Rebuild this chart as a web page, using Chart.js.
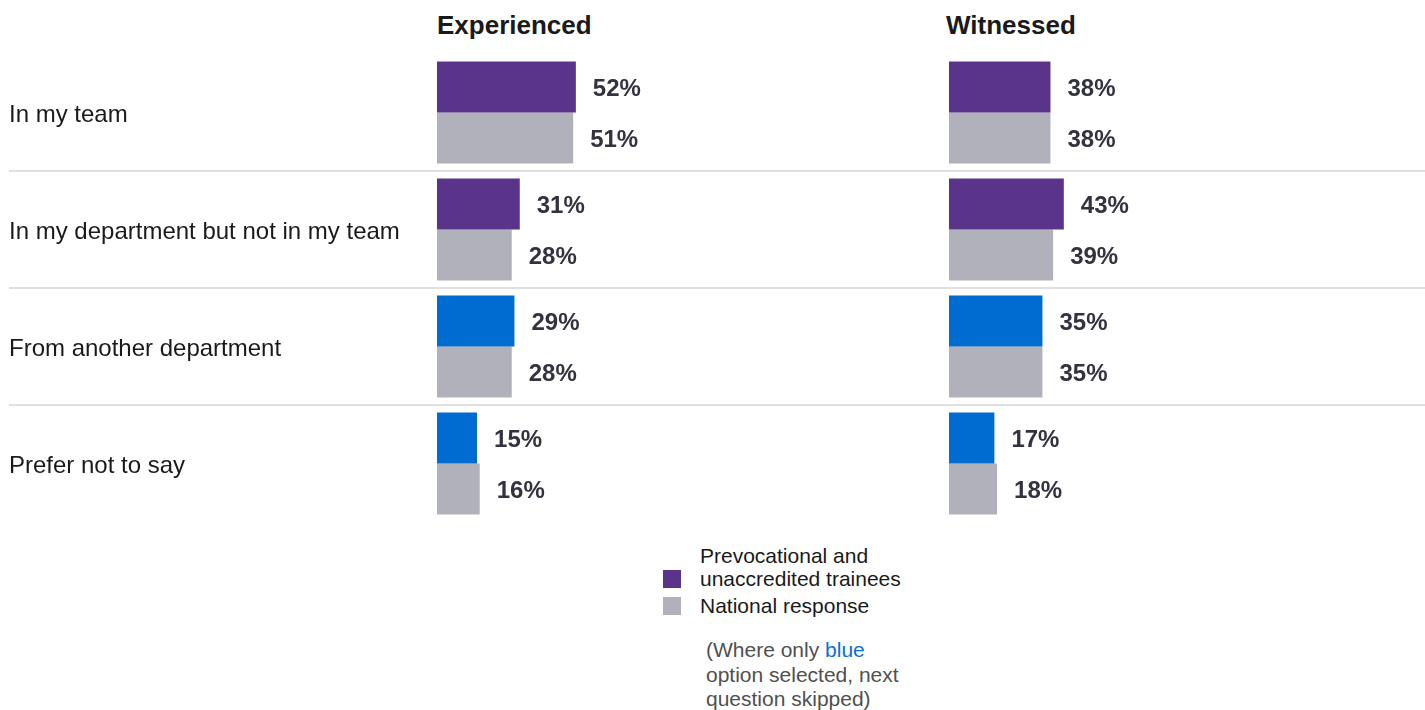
<!DOCTYPE html>
<html>
<head>
<meta charset="utf-8">
<script src="https://cdn.jsdelivr.net/npm/chart.js@4"></script>
<style>
    body { margin: 0; width: 1425px; height: 710px; background: #fff; overflow: hidden;
           font-family: "Liberation Sans", Arial, sans-serif; position: relative; }
    .panel { position: absolute; top: 0; height: 540px; }
    #leftPanel { left: 0; width: 946px; }
    #rightPanel { left: 946px; width: 479px; }
    .title { position: absolute; top: 10px; font-weight: bold; font-size: 26px; color: #1a1a1a; }
    .legend-box { position: absolute; width: 18px; height: 18px; }
    .legend-text { position: absolute; left: 700px; font-size: 21px; line-height: 23px; color: #1a1a1a; }
    .note { position: absolute; left: 706px; top: 638px; font-size: 21px; line-height: 24.5px; color: #505050; }
    .note span { color: #0a6fd6; }
</style>
</head>
<body>
<div class="title" style="left:437px">Experienced</div>
<div class="title" style="left:946px">Witnessed</div>
<div class="panel" id="leftPanel"><canvas id="experiencedChart"></canvas></div>
<div class="panel" id="rightPanel"><canvas id="witnessedChart"></canvas></div>

<div class="legend-box" style="left:663px; top:570px; background:#5a338a"></div>
<div class="legend-text" style="top:544px">Prevocational and<br>unaccredited trainees</div>
<div class="legend-box" style="left:663px; top:597px; background:#b1b1bc"></div>
<div class="legend-text" style="top:594px">National response</div>
<div class="note">(Where only <span>blue</span><br>option selected, next<br>question skipped)</div>

<script>
// Data
const categories = ['In my team', 'In my department but not in my team', 'From another department', 'Prefer not to say'];
const experiencedTrainees = [52, 31, 29, 15];
const experiencedNational = [51, 28, 28, 16];
const witnessedTrainees = [38, 43, 35, 17];
const witnessedNational = [38, 39, 35, 18];

// Colours
const purple = '#5a338a';
const blue = '#006bd1';
const grey = '#b1b1bc';
const traineeColors = [purple, purple, blue, blue];

// Row separators between categories
function separatorPlugin(startX) {
    return {
        id: 'separators',
        beforeDatasetsDraw(chart) {
            const y = chart.scales.y;
            const ctx = chart.ctx;
            ctx.save();
            ctx.strokeStyle = '#e0e0e0';
            ctx.lineWidth = 2;
            for (let i = 0; i < categories.length - 1; i++) {
                const py = (y.getPixelForTick(i) + y.getPixelForTick(i + 1)) / 2;
                ctx.beginPath();
                ctx.moveTo(startX, py);
                ctx.lineTo(chart.width, py);
                ctx.stroke();
            }
            ctx.restore();
        }
    };
}

// Percentage labels at the end of each bar
const valueLabels = {
    id: 'valueLabels',
    afterDatasetsDraw(chart) {
        const ctx = chart.ctx;
        ctx.save();
        ctx.font = 'bold 24px "Liberation Sans", Arial, sans-serif';
        ctx.fillStyle = '#333340';
        ctx.textAlign = 'left';
        ctx.textBaseline = 'middle';
        chart.data.datasets.forEach((ds, di) => {
            chart.getDatasetMeta(di).data.forEach((bar, i) => {
                ctx.fillText(ds.data[i] + '%', bar.x + 17, bar.y + 2);
            });
        });
        ctx.restore();
    }
};

function makeChart(canvasId, trainees, national, showLabels, padding) {
    const ctx = document.getElementById(canvasId).getContext('2d');
    return new Chart(ctx, {
        type: 'bar',
        data: {
            labels: categories,
            datasets: [
                { label: 'Prevocational and unaccredited trainees', data: trainees, backgroundColor: traineeColors },
                { label: 'National response', data: national, backgroundColor: grey }
            ]
        },
        options: {
            indexAxis: 'y',
            responsive: true,
            maintainAspectRatio: false,
            animation: false,
            categoryPercentage: 0.872,
            barPercentage: 1.0,
            layout: { padding: padding },
            plugins: {
                legend: { display: false },
                tooltip: { enabled: false }
            },
            scales: {
                x: { display: false, min: 0, max: 100 },
                y: {
                    display: showLabels,
                    grid: { display: false },
                    border: { display: false },
                    ticks: {
                        crossAlign: 'far',
                        padding: 0,
                        labelOffset: 3,
                        color: '#1a1a1a',
                        font: { family: '"Liberation Sans", Arial, sans-serif', size: 24 }
                    },
                    afterFit: function(scale) { scale.width = showLabels ? 428 : 0; }
                }
            }
        },
        plugins: [separatorPlugin(showLabels ? 9 : 0), valueLabels]
    });
}

let charts = {};
charts.experienced = makeChart('experiencedChart', experiencedTrainees, experiencedNational, true,
    { top: 54, bottom: 18, left: 9, right: 242 });
charts.witnessed = makeChart('witnessedChart', witnessedTrainees, witnessedNational, false,
    { top: 54, bottom: 18, left: 3, right: 209 });
</script>
</body>
</html>
